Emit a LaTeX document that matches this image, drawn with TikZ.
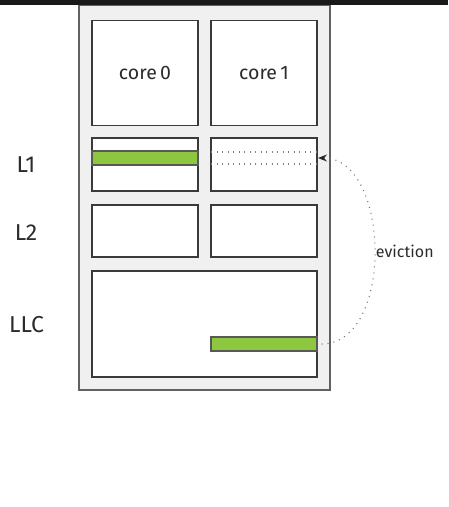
\documentclass[tikz,border=0pt]{standalone}
\usepackage{fontspec}
\setmainfont{Fira Sans}
\usetikzlibrary{arrows.meta}
\definecolor{txt}{HTML}{2B2B2B}
\definecolor{frame}{HTML}{F0F0F0}
\definecolor{edge}{HTML}{3A3A3A}
\definecolor{line}{HTML}{8DC63F}
\tikzset{
  outerbox/.style={draw=edge!80, fill=frame, line width=1.2pt, inner sep=0pt},
  cell/.style={draw=edge, fill=white, line width=1.1pt, inner sep=0pt,
    minimum width=106pt, minimum height=#1, text=txt, font=\fontsize{19.5}{22}\selectfont},
  cell/.default=53pt,
  cacheline/.style={draw=edge!85, fill=line, line width=1.1pt, inner sep=0pt,
    minimum width=106pt, minimum height=14pt},
  level/.style={text=txt, font=\fontsize{23}{26}\selectfont, inner sep=0pt},
  ghost/.style={draw=gray, line width=1.1pt, dash pattern=on 1pt off 4.5pt},
}
\begin{document}
\begin{tikzpicture}[x=1pt, y=-1pt]
  \useasboundingbox (0,0) rectangle (448,507);
  % dark strip along the top
  \fill[black!90] (0,0) rectangle (448,5);
  % chip outline
  \node[outerbox, minimum width=251pt, minimum height=384.5pt] (chip) at (204.5,197.75) {};
  % cores
  \node[cell=105pt] (core0) at (145,73) {core\,0};
  \node[cell=105pt] (core1) at (264,73) {core\,1};
  % private L1 caches
  \node[cell=53pt] (l1a) at (145,164.5) {};
  \node[cell=53pt] (l1b) at (264,164.5) {};
  % private L2 caches
  \node[cell=52pt] (l2a) at (145,231) {};
  \node[cell=52pt] (l2b) at (264,231) {};
  % shared last-level cache
  \node[cell=106pt, minimum width=225pt] (llc) at (204.5,324) {};
  % cache lines
  \node[cacheline] (lineA) at (145,158) {};
  \node[cacheline] (lineB) at (264,344) {};
  % outline of the evicted line in core 1's L1
  \coordinate (ghostNW) at (211,152);
  \coordinate (ghostNE) at (317,152);
  \coordinate (ghostSW) at (211,164);
  \coordinate (ghostSE) at (317,164);
  \draw[ghost] (ghostNW) -- (ghostNE);
  \draw[ghost] (ghostSW) -- (ghostSE);
  % level labels
  \node[level] (labL1) at (26,165) {L1};
  \node[level] (labL2) at (26,232.5) {L2};
  \node[level] (labLLC) at (26.5,325) {LLC};
  % eviction path
  \coordinate (evTo) at (318,158);
  \draw[gray!90!black, line width=1.1pt, dash pattern=on 1pt off 5pt,
        -{Stealth[length=9pt,width=7pt,black!85]}]
    ([xshift=4pt]lineB.east) to[out=0,in=0] node[right, text=txt,
      font=\fontsize{16}{20}\selectfont, inner sep=2pt, xshift=-1pt] {eviction} (evTo);
\end{tikzpicture}
\end{document}
